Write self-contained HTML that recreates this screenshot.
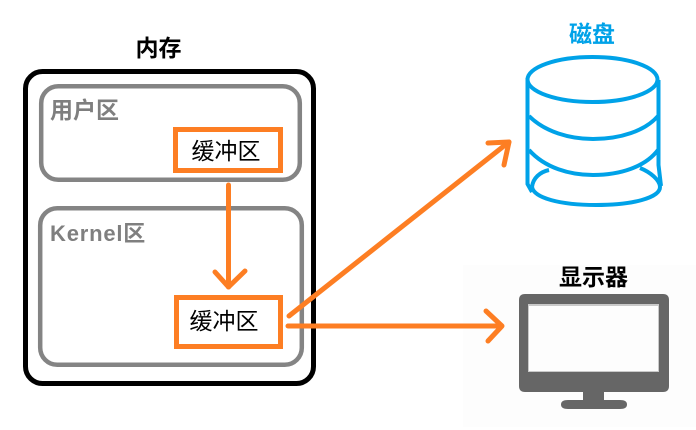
<!DOCTYPE html>
<html>
<head>
<meta charset="utf-8">
<style>
html,body{margin:0;padding:0;background:#fff;}
svg{display:block;}
text{font-family:"Liberation Sans","Noto Sans CJK SC",sans-serif;}
</style>
</head>
<body>
<svg width="696" height="430" viewBox="0 0 696 430" xmlns="http://www.w3.org/2000/svg">
<rect x="463" y="265" width="233" height="162" fill="#fdfdfd"/>

<rect x="25.5" y="71.5" width="288" height="312" rx="17" fill="#fff" stroke="#000" stroke-width="5"/>
<rect x="41.2" y="86.2" width="258.6" height="93.6" rx="17" fill="#fff" stroke="#848484" stroke-width="4.5"/>
<rect x="40.2" y="208.2" width="261.6" height="156.6" rx="17" fill="#fff" stroke="#848484" stroke-width="4.5"/>

<text x="158.500" y="56" font-size="23" font-weight="700" text-anchor="middle" fill="#000">内存</text>
<text x="84.500" y="118" font-size="23" font-weight="700" text-anchor="middle" fill="#7f7f7f">用户区</text>
<text x="50" y="241" font-size="22" font-weight="700" letter-spacing="0.8" fill="#7f7f7f">Kernel区</text>
<text x="592" y="42" font-size="23" font-weight="700" text-anchor="middle" fill="#00a2e8">磁盘</text>
<text x="593.500" y="285" font-size="23" font-weight="700" text-anchor="middle" fill="#000">显示器</text>

<rect x="175.5" y="129.5" width="105" height="41" fill="#fff" stroke="#fd7e23" stroke-width="5"/>
<rect x="176.5" y="297.5" width="104" height="49" fill="#fff" stroke="#fd7e23" stroke-width="5"/>
<text x="226" y="159" font-size="23" text-anchor="middle" fill="#000">缓冲区</text>
<text x="224" y="329" font-size="23" text-anchor="middle" fill="#000">缓冲区</text>

<g fill="none" stroke="#fd7e23" stroke-width="5" stroke-linecap="round" stroke-linejoin="round">
<path d="M228.500 185 L228.500 287"/>
<path d="M215 272 L228.500 287 L245 271"/>
<path d="M289 316 L509 142"/>
<path d="M488 143 L509 142 L504 165"/>
<path d="M288 326 L500 326"/>
<path d="M486 311 L502 326 L488 341"/>
</g>

<g fill="none" stroke="#00a2e8" stroke-width="4">
<ellipse cx="592.500" cy="79.500" rx="65" ry="22.500"/>
<path d="M527.500 78 L527.500 184 L532 192"/>
<path d="M658.500 80 L658.500 165 L661 186"/>
<path d="M529 116 C545 132 570 139 593 139 C620 139 645 131 658 116"/>
<path d="M529 150 C545 168 570 175 593 175 C620 175 645 167 658 150"/>
<path d="M532 187 C534 198 560 205 596 205 C632 205 660 198 660 187 C660 180 650 172 640 168"/>
<path d="M532 187 C533 178 540 172 549 170"/>
</g>

<path d="M525 294 H663 Q669 294 669 300 V386 Q669 392 663 392 H604 V400 H620 Q627 400 627 404.500 Q627 409 620 409 H568 Q561 409 561 404.500 Q561 400 568 400 H583 V392 H525 Q519 392 519 386 V300 Q519 294 525 294 Z" fill="#666"/>
<rect x="528" y="304" width="131" height="68" fill="#c9c9c9"/>
<rect x="529" y="306" width="129" height="65" fill="#fdfdfd"/>
</svg>
</body>
</html>
